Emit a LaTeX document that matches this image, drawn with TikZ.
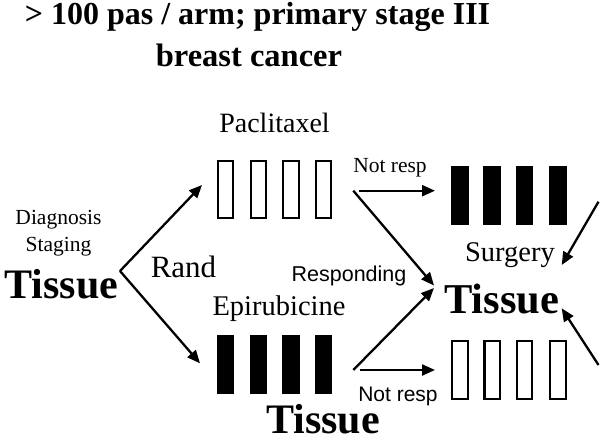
\documentclass[tikz,border=0pt]{standalone}
\usepackage{fontspec}
\setmainfont{Liberation Serif}
\newfontfamily\sansf{Liberation Sans}
\usetikzlibrary{arrows.meta}
\begin{document}
\begin{tikzpicture}[x=1pt,y=-1pt,
  txt/.style={anchor=base,inner sep=0pt,outer sep=0pt},
  openbar/.style={draw=black,line width=2.2pt,fill=white,minimum width=15.3pt,minimum height=57.3pt,inner sep=0pt,outer sep=0pt},
  fullbar/.style={fill=black,minimum width=17.5pt,minimum height=59pt,inner sep=0pt,outer sep=0pt},
  arr/.style={line width=2.3pt,-{Triangle[length=13pt,width=11pt]}}]
\useasboundingbox (0,0) rectangle (600,441);
% title
\node[txt] (t1) at (257.5,25) {\bfseries\fontsize{32}{36}\selectfont > 100 pas / arm; primary stage III};
\node[txt] (t2) at (249,66.7) {\bfseries\fontsize{32.5}{36}\selectfont breast cancer};
% left
\node[txt] (diag) at (58.5,225) {\fontsize{21.5}{22}\selectfont Diagnosis};
\node[txt] (stag) at (58.5,251) {\fontsize{21.5}{22}\selectfont Staging};
\node[txt] (tisL) at (61.5,298) {\bfseries\fontsize{42}{46}\selectfont Tissue};
\node[txt] (rand) at (183.5,277) {\fontsize{31}{34}\selectfont Rand};
\node[txt] (pacl) at (274.5,133) {\fontsize{28}{32}\selectfont Paclitaxel};
\node[txt] (epir) at (279,315) {\fontsize{28.5}{32}\selectfont Epirubicine};
\node[txt] (tisB) at (323,433) {\bfseries\fontsize{42}{46}\selectfont Tissue};
\node[txt] (nr1) at (390,173) {\fontsize{21.5}{24}\selectfont Not resp};
\node[txt] (nr2) at (398,401.7) {\sansf\fontsize{21}{24}\selectfont Not resp};
\node[txt] (resp) at (349,281.7) {\sansf\fontsize{21.5}{24}\selectfont Responding};
\node[txt] (surg) at (510,261.7) {\fontsize{28.5}{32}\selectfont Surgery};
\node[txt] (tisR) at (501.7,313.3) {\bfseries\fontsize{42.5}{46}\selectfont Tissue};
% bars
\foreach \i/\x in {1/225.5,2/258.6,3/291,4/323.7}{
  \node[openbar] (pb\i) at (\x,189.5) {};
  \node[fullbar] (eb\i) at (\x,364.7) {};
}
\foreach \i/\x in {1/460,2/492.2,3/524.7,4/558}{
  \node[fullbar] (sb\i) at (\x,195.8) {};
  \node[openbar] (ob\i) at (\x,370) {};
}
% connectors
\coordinate (v) at (120,271);
\coordinate (vU) at (202,185);
\coordinate (vD) at (200,363.3);
\draw[arr] (v) -- (vU);
\draw[arr] (v) -- (vD);
\coordinate (a1) at (353.3,190.7);
\coordinate (a1h) at (358.5,190.7);
\coordinate (a1e) at (435,190.7);
\coordinate (cT) at (434,285.5);
\coordinate (cB) at (434,288);
\coordinate (a2) at (353.3,370);
\coordinate (a2h) at (359.5,370);
\coordinate (a2e) at (435,370);
\draw[arr] (a1h) -- (a1e);
\draw[arr] (a1) -- (cT);
\draw[arr] (a2) -- (cB);
\draw[arr] (a2h) -- (a2e);
\coordinate (r1) at (598.5,201.7);
\coordinate (r1e) at (561.7,265);
\coordinate (r2) at (598.5,365);
\coordinate (r2e) at (561.7,308.3);
\draw[arr] (r1) -- (r1e);
\draw[arr] (r2) -- (r2e);
\end{tikzpicture}
\end{document}
